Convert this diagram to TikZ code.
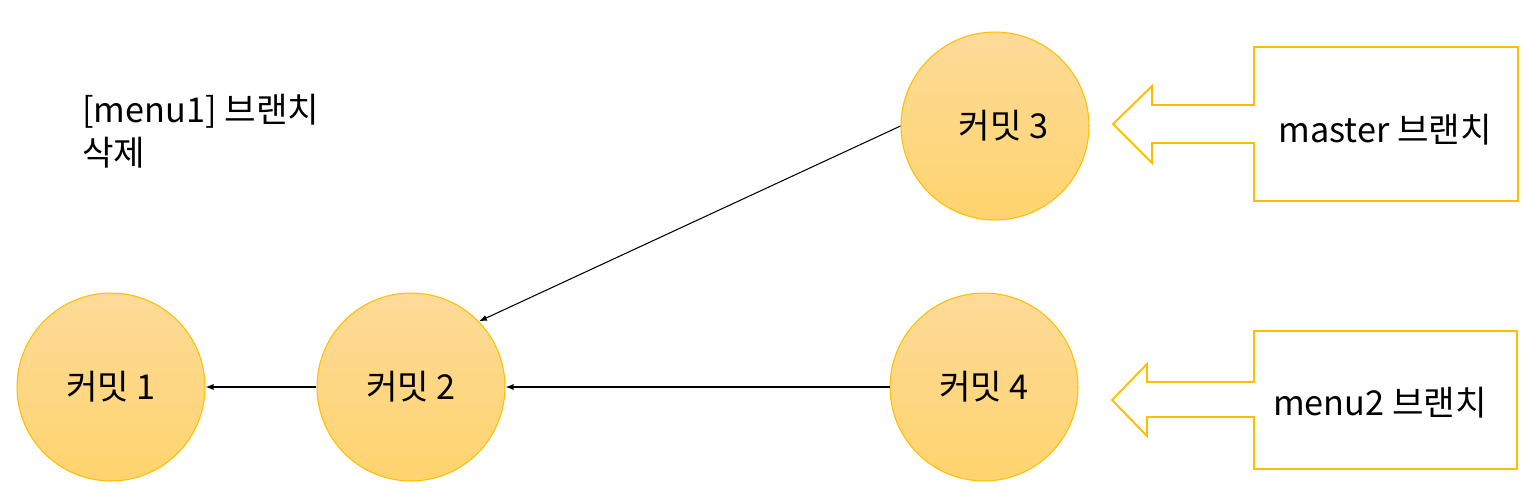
\documentclass[tikz,border=0pt]{standalone}
\usepackage{fontspec}
\setmainfont{Noto Sans CJK KR}
\usetikzlibrary{arrows.meta}
\definecolor{committop}{HTML}{FDDA98}
\definecolor{commitbot}{HTML}{FFD46E}
\definecolor{gold}{HTML}{FFBF00}
\tikzset{
    commit/.style={circle,draw=gold,line width=0.6pt,top color=committop,bottom color=commitbot,
        minimum size=3.76cm,inner sep=0pt,font=\fontsize{19.5}{24}\selectfont},
    parent/.style={-{Latex[length=1.6mm,width=1.2mm]},line width=0.6pt},
    branchptr/.style={draw=gold,line width=1.1pt},
    branchlabel/.style={font=\fontsize{19.5}{24.5}\selectfont}
}
\begin{document}
\begin{tikzpicture}
    [x=0.02cm,y=-0.02cm]
    \useasboundingbox (0,0) rectangle (1525,490);
    %commits
    \node[commit] (c1) at (111,387) {커밋 1};
    \node[commit] (c2) at (411,387) {커밋 2};
    \node[commit] (c3) at (995,126) {\hspace{0.5em}커밋 3};
    \node[commit] (c4) at (984,387) {커밋 4};
    %parent links
    \draw[parent] (c3.west) -- (c2.44);
    \draw[parent] (c2) -- (c1);
    \draw[parent] (c4) -- (c2);
    %master pointer
    \draw[branchptr] (1254,47)--(1518,47)--(1518,201)--(1254,201)--(1254,143)--(1152,143)
    --(1152,163)--(1113,124)--(1152,86)--(1152,105)--(1254,105)--cycle;
    \node[branchlabel] (master) at (1385,130) {master 브랜치};
    %menu2 pointer
    \draw[branchptr] (1254,331)--(1517,331)--(1517,469)--(1254,469)--(1254,417)--(1147,417)
    --(1147,436)--(1112,400)--(1147,364)--(1147,382)--(1254,382)--cycle;
    \node[branchlabel] (menu2) at (1380,403) {menu2 브랜치};
    %note
    \node[branchlabel,anchor=north west,align=left,inner sep=0pt] (deleted) at (82,94) {[menu1] 브랜치\\삭제};
\end{tikzpicture}
\end{document}
